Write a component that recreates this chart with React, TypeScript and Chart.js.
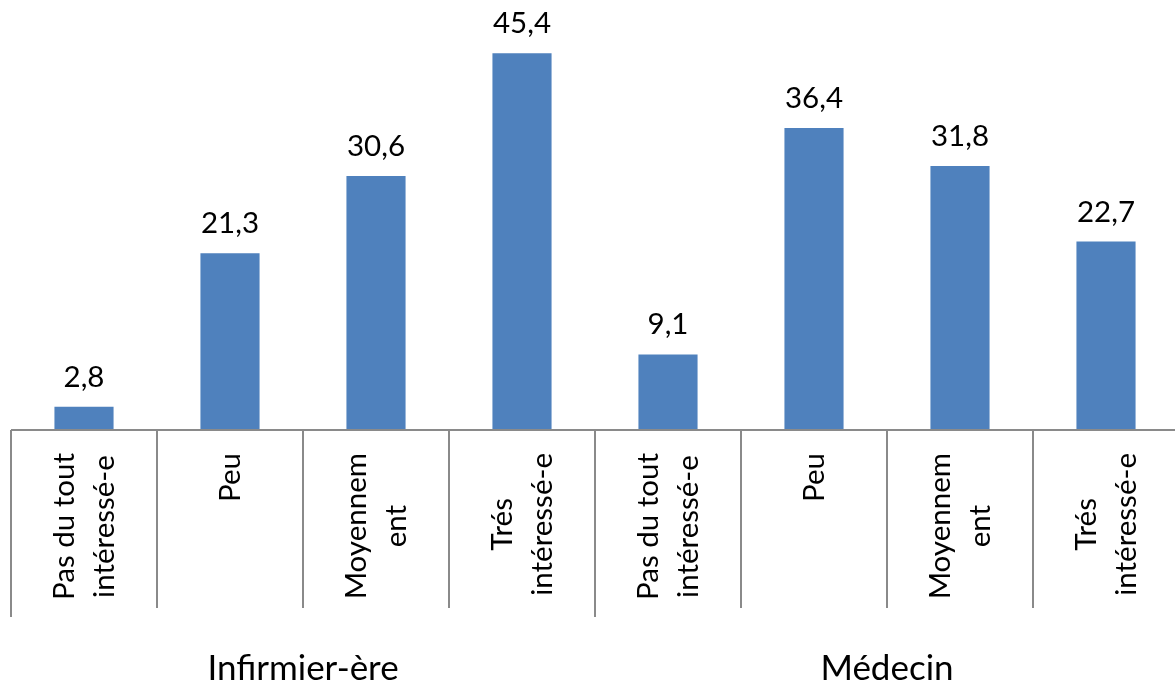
import React, { useEffect, useRef } from "react";
import { Chart, registerables } from "chart.js";

Chart.register(...registerables);

const categories: string[][] = [
  ["Pas du tout", "intéressé-e"],
  ["Peu"],
  ["Moyennem", "ent"],
  ["Trés", "intéressé-e"],
  ["Pas du tout", "intéressé-e"],
  ["Peu"],
  ["Moyennem", "ent"],
  ["Trés", "intéressé-e"],
];
const values: number[] = [2.8, 21.3, 30.6, 45.4, 9.1, 36.4, 31.8, 22.7];
const groups: string[] = ["Infirmier-ère", "Médecin"];
const groupSize = 4;

const FONT = "Lato, Carlito, 'Liberation Sans', sans-serif";
const AXIS_COLOR = "#8a8a8a";

const fmt = (v: number) => v.toFixed(1).replace(".", ",");

const decorations = {
  id: "decorations",
  afterDatasetsDraw(chart: any) {
    const { ctx, chartArea, scales } = chart;
    const x = scales.x;
    const meta = chart.getDatasetMeta(0);
    const n = categories.length;
    const step = (chartArea.right - chartArea.left) / n;
    const axisY = chartArea.bottom;

    ctx.save();
    // value labels above each bar
    ctx.fillStyle = "#000";
    ctx.font = `29.5px ${FONT}`;
    ctx.textAlign = "center";
    ctx.textBaseline = "alphabetic";
    meta.data.forEach((bar: any, i: number) => {
      ctx.fillText(fmt(values[i]), bar.x, bar.y - 20);
    });

    // horizontal axis line
    ctx.strokeStyle = AXIS_COLOR;
    ctx.lineWidth = 2;
    ctx.beginPath();
    ctx.moveTo(chartArea.left, axisY);
    ctx.lineTo(chartArea.right, axisY);
    ctx.stroke();

    // category dividers; group boundaries extend further down
    for (let k = 0; k <= n; k++) {
      const px = Math.round(chartArea.left + k * step);
      const long = k % groupSize === 0;
      ctx.beginPath();
      ctx.moveTo(px, axisY);
      ctx.lineTo(px, axisY + (long ? 187 : 178));
      ctx.stroke();
    }

    // rotated category labels
    ctx.fillStyle = "#000";
    ctx.font = `29.5px ${FONT}`;
    ctx.textBaseline = "middle";
    ctx.textAlign = "center";
    const lineH = 40;
    categories.forEach((lines, i) => {
      const cx = x.getPixelForValue(i);
      const maxW = Math.max(...lines.map((l) => ctx.measureText(l).width));
      ctx.save();
      ctx.translate(cx, axisY + 23);
      ctx.rotate(-Math.PI / 2);
      lines.forEach((l, j) => {
        const off = (j - (lines.length - 1) / 2) * lineH;
        ctx.fillText(l, -maxW / 2, off);
      });
      ctx.restore();
    });

    // group labels
    ctx.font = `35px ${FONT}`;
    ctx.textAlign = "center";
    ctx.textBaseline = "alphabetic";
    groups.forEach((g, gi) => {
      const gx = chartArea.left + (gi * groupSize + groupSize / 2) * step;
      ctx.fillText(g, gx, 680);
    });
    ctx.restore();
  },
};

export default function App() {
  const ref = useRef<HTMLCanvasElement>(null);

  useEffect(() => {
    if (!ref.current) return;
    const chart = new Chart(ref.current, {
      type: "bar",
      data: {
        labels: categories.map((c) => c.join(" ")),
        datasets: [
          {
            data: values,
            backgroundColor: "#4F81BD",
            borderWidth: 0,
            categoryPercentage: 1,
            barPercentage: 0.405,
          },
        ],
      },
      options: {
        responsive: false,
        animation: false,
        layout: { padding: { left: 11, top: 15, right: 4, bottom: 254 } },
        plugins: {
          legend: { display: false },
          tooltip: { enabled: false },
        },
        scales: {
          x: { display: false },
          y: { display: false, min: 0, max: 50 },
        },
      },
      plugins: [decorations],
    });
    return () => chart.destroy();
  }, []);

  return (
    <div
      style={{
        position: "fixed",
        left: 0,
        top: 0,
        width: 1175,
        height: 684,
        overflow: "hidden",
        background: "#fff",
      }}
    >
      <canvas ref={ref} width={1183} height={684} style={{ display: "block" }} />
    </div>
  );
}
